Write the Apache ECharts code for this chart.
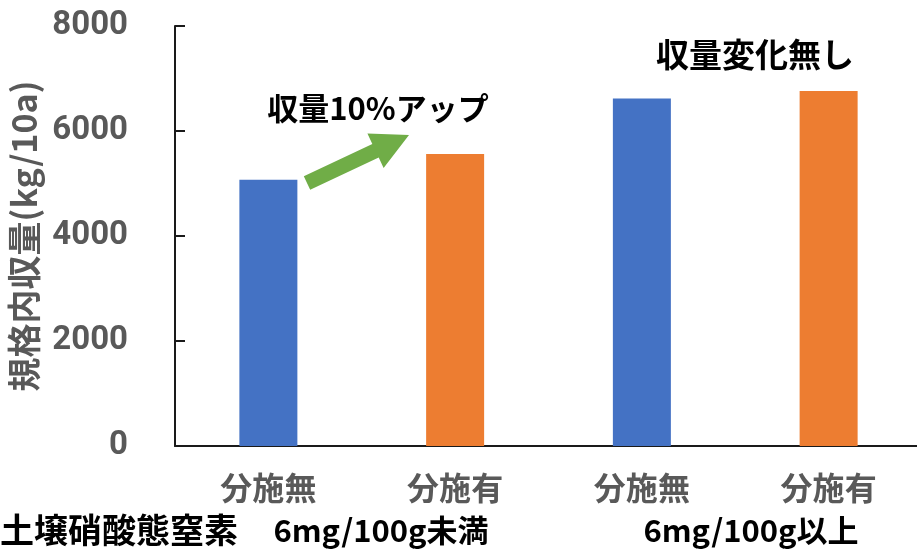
<!DOCTYPE html>
<html>
<head>
<meta charset="utf-8">
<script src="https://cdn.jsdelivr.net/npm/echarts@6/dist/echarts.min.js"></script>
<style>
  html, body { margin: 0; padding: 0; background: #fff; }
  #chart { width: 917px; height: 550px; }
</style>
</head>
<body>
<div id="chart"></div>
<script>
// 規格内収量 (kg/10a) by 分施 treatment, grouped by soil nitrate-N level
const categories = ['分施無', '分施有', '分施無', '分施有'];
const yields = [5070, 5560, 6620, 6760];
const barColors = ['#4472C4', '#ED7D31', '#4472C4', '#ED7D31'];
const yMin = 0;
const yMax = 8000;
const yStep = 2000;
const yTitle = '規格内収量(kg/10a)';
const rowTitle = '土壌硝酸態窒素';
const groupLabels = ['6mg/100g未満', '6mg/100g以上'];
const notes = ['収量10%アップ', '収量変化無し'];

const CJK = '"Noto Sans CJK JP", "Noto Sans", sans-serif';
const GRAY = '#595959';

// Green block arrow between the first pair of bars
function arrowPoints(tail, tip, shaftW, headW, headL) {
  const dx = tip[0] - tail[0], dy = tip[1] - tail[1];
  const len = Math.hypot(dx, dy);
  const ux = dx / len, uy = dy / len;
  const nx = -uy, ny = ux;
  const bx = tip[0] - ux * headL, by = tip[1] - uy * headL;
  const s = shaftW / 2, h = headW / 2;
  return [
    [tail[0] + nx * s, tail[1] + ny * s],
    [bx + nx * s, by + ny * s],
    [bx + nx * h, by + ny * h],
    [tip[0], tip[1]],
    [bx - nx * h, by - ny * h],
    [bx - nx * s, by - ny * s],
    [tail[0] - nx * s, tail[1] - ny * s]
  ];
}

const chart = echarts.init(document.getElementById('chart'));

const option = {
  backgroundColor: '#fff',
  animation: false,
  grid: {
    left: 175, right: -5, top: 26, bottom: 104,
    containLabel: false, outerBoundsMode: 'none'
  },
  xAxis: {
    type: 'category',
    data: categories,
    axisLine: { show: true, lineStyle: { color: '#1a1a1a', width: 2 } },
    axisTick: { show: false },
    axisLabel: {
      color: GRAY, fontSize: 32, fontWeight: 'bold', fontFamily: CJK, margin: 26
    }
  },
  yAxis: {
    type: 'value',
    min: yMin, max: yMax, interval: yStep,
    name: yTitle,
    nameLocation: 'middle',
    nameRotate: 90,
    nameGap: 132,
    nameTextStyle: { color: GRAY, fontSize: 34, fontWeight: 'bold', fontFamily: CJK },
    axisLine: { show: true, lineStyle: { color: '#1a1a1a', width: 2 } },
    axisTick: { show: true, inside: true, length: 10, lineStyle: { color: '#1a1a1a', width: 2 } },
    splitLine: { show: false },
    axisLabel: {
      color: GRAY, fontSize: 33, fontWeight: 'bold', margin: 47,
      fontFamily: 'Roboto, "Noto Sans", sans-serif',
      formatter: (v) => String(v)
    }
  },
  series: [{
    type: 'bar',
    barWidth: 58,
    data: yields.map((v, i) => ({ value: v, itemStyle: { color: barColors[i] } }))
  }],
  graphic: [
    {
      type: 'polygon',
      shape: { points: arrowPoints([307, 183], [409, 135], 15, 38, 37) },
      style: { fill: '#70AD47' }
    },
    {
      type: 'text',
      style: { text: notes[0], x: 378, y: 108, textAlign: 'center', textVerticalAlign: 'middle',
               fill: '#000', font: 'bold 31px ' + CJK }
    },
    {
      type: 'text',
      style: { text: notes[1], x: 755, y: 54, textAlign: 'center', textVerticalAlign: 'middle',
               fill: '#000', font: 'bold 33px ' + CJK }
    },
    {
      type: 'text',
      style: { text: rowTitle, x: 0, y: 530, textAlign: 'left', textVerticalAlign: 'middle',
               fill: '#000', font: 'bold 34px ' + CJK }
    },
    {
      type: 'text',
      style: { text: groupLabels[0], x: 381, y: 530, textAlign: 'center', textVerticalAlign: 'middle',
               fill: '#000', font: 'bold 31px ' + CJK }
    },
    {
      type: 'text',
      style: { text: groupLabels[1], x: 751, y: 530, textAlign: 'center', textVerticalAlign: 'middle',
               fill: '#000', font: 'bold 31px ' + CJK }
    }
  ]
};

chart.setOption(option);
</script>
</body>
</html>
